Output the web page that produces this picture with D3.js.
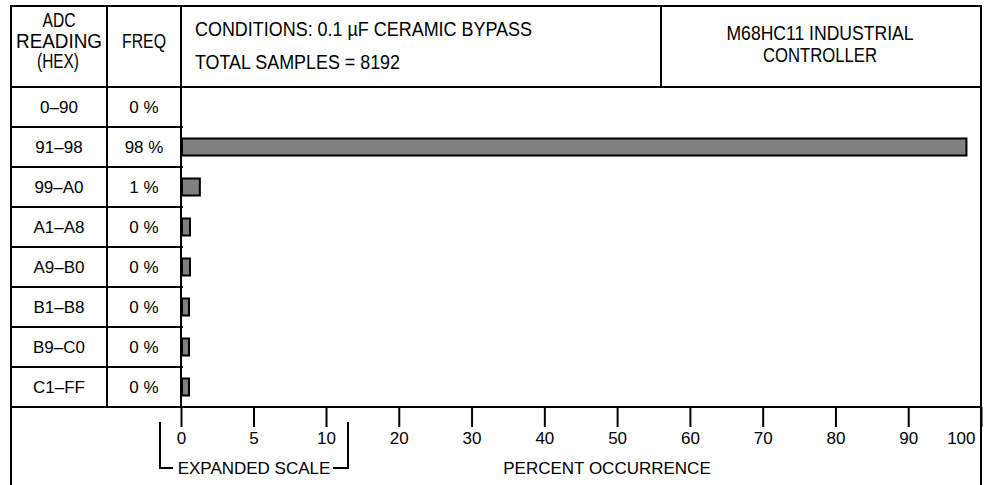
<!DOCTYPE html>
<html>
<head>
<meta charset="utf-8">
<script src="https://cdn.jsdelivr.net/npm/d3@7/dist/d3.min.js"></script>
<style>
  html, body { margin: 0; padding: 0; background: #fff; }
  svg { display: block; }
  text { font-family: "Liberation Sans", Arial, Helvetica, sans-serif; fill: #000; }
</style>
</head>
<body>
<svg id="chart" width="990" height="485"></svg>
<script>
// ---- data ----
const categories = ["0\u201390", "91\u201398", "99\u2013A0", "A1\u2013A8", "A9\u2013B0", "B1\u2013B8", "B9\u2013C0", "C1\u2013FF"];
const freqLabels = ["0 %", "98 %", "1 %", "0 %", "0 %", "0 %", "0 %", "0 %"];
const barValues = [0, 98, 1.3, 0.62, 0.62, 0.55, 0.55, 0.55];
const tickValues = [0, 5, 10, 20, 30, 40, 50, 60, 70, 80, 90, 100];
const headerLeft = ["ADC", "READING", "(HEX)"];
const headerFreq = "FREQ";
const conditionLines = ["CONDITIONS: 0.1 \u00B5F CERAMIC BYPASS", "TOTAL SAMPLES = 8192"];
const titleLines = ["M68HC11 INDUSTRIAL", "CONTROLLER"];
const expandedLabel = "EXPANDED SCALE";
const axisTitle = "PERCENT OCCURRENCE";

// ---- layout ----
const svg = d3.select("#chart");
const L = 11, R = 981, T = 6, B = 485;
const col1 = 107, col2 = 181, col3 = 661;
const headBottom = 87, axisY = 407;
const lw = 2;

// piecewise scale: expanded 0-10, then 10-100
const x = d3.scaleLinear().domain([0, 10, 100]).range([col2, 326, R]);
const y = d3.scaleBand().domain(categories).range([headBottom, axisY]).paddingInner(0).paddingOuter(0);
const barH = 17;

const g = svg.append("g");
function line(x1, y1, x2, y2, w) {
  g.append("line").attr("x1", x1).attr("y1", y1).attr("x2", x2).attr("y2", y2)
    .attr("stroke", "#000").attr("stroke-width", w || lw).attr("stroke-linecap", "square");
}

// bars
g.selectAll("rect.bar").data(categories.map((c, i) => ({ c, v: barValues[i] })).filter(d => d.v > 0))
  .enter().append("rect")
  .attr("class", "bar")
  .attr("x", x(0) + 1)
  .attr("y", d => y(d.c) + y.bandwidth() / 2 - barH / 2)
  .attr("width", d => x(d.v) - x(0) - 1)
  .attr("height", barH)
  .attr("fill", "#808080")
  .attr("stroke", "#000")
  .attr("stroke-width", 2);

// frame
line(L, T, R, T);
line(L, T, L, B);
line(R, T, R, B);
line(L, headBottom, R, headBottom);
line(col1, T, col1, axisY);
line(col2, T, col2, axisY);
line(col3, T, col3, headBottom);
// row separators in table
categories.forEach((c, i) => {
  if (i > 0) line(L, y(c), col2 + 1, y(c));
});

// axis
const axis = d3.axisBottom(x).tickValues(tickValues).tickSize(20).tickPadding(5).tickFormat(d3.format("d"));
const ax = svg.append("g").attr("transform", `translate(0,${axisY})`).call(axis);
ax.select(".domain").remove();
ax.selectAll(".tick line").attr("stroke", "#000").attr("stroke-width", 2);
ax.selectAll(".tick text").attr("font-size", 17).attr("fill", "#000")
  .attr("font-family", '"Liberation Sans", Arial, sans-serif');
ax.selectAll(".tick").filter(d => d === 100).select("text")
  .attr("text-anchor", "end").attr("x", -6);
line(L, axisY, R, axisY);

// row texts
categories.forEach((c, i) => {
  const cy = y(c) + y.bandwidth() / 2;
  g.append("text").attr("x", 59).attr("y", cy + 6).attr("text-anchor", "middle")
    .attr("font-size", 17).text(c);
  g.append("text").attr("x", 144).attr("y", cy + 6).attr("text-anchor", "middle")
    .attr("font-size", 17).text(freqLabels[i]);
});

// header texts (condensed)
function htext(str, xx, yy, w, anchor) {
  g.append("text").attr("x", xx).attr("y", yy).attr("text-anchor", anchor || "middle")
    .attr("font-size", 20).attr("textLength", w).attr("lengthAdjust", "spacingAndGlyphs").text(str);
}
htext(headerLeft[0], 59, 27, 33);
htext(headerLeft[1], 59, 48, 86);
htext(headerLeft[2], 58, 68, 42);
htext(headerFreq, 144, 48, 44);
htext(conditionLines[0], 195, 36, 337, "start");
htext(conditionLines[1], 195, 69, 205, "start");
htext(titleLines[0], 820, 40, 187);
htext(titleLines[1], 820, 62, 114);

// expanded scale bracket
const bTop = 423, bBot = 468;
line(160, bTop, 160, bBot);
line(160, bBot, 172, bBot);
line(348, bTop, 348, bBot);
line(334, bBot, 348, bBot);
g.append("text").attr("x", 254).attr("y", 474).attr("text-anchor", "middle")
  .attr("font-size", 17).text(expandedLabel);
g.append("text").attr("x", 607).attr("y", 474).attr("text-anchor", "middle")
  .attr("font-size", 17).text(axisTitle);
</script>
</body>
</html>
